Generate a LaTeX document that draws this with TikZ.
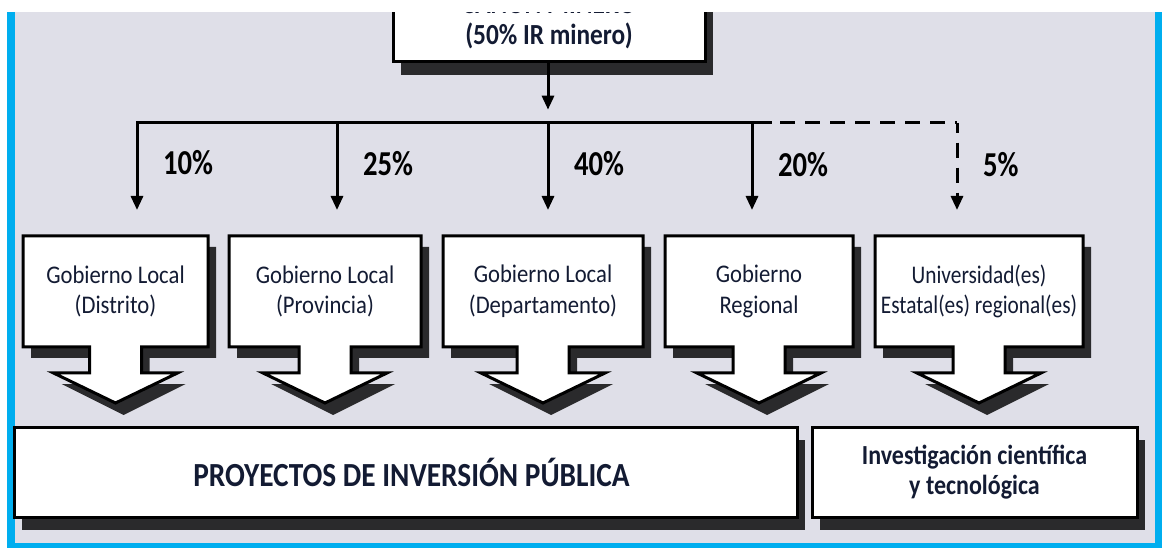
\documentclass[tikz,border=0pt]{standalone}
\usepackage{fontspec}
\usepackage{graphicx}
\setmainfont{Carlito}
\usetikzlibrary{arrows.meta,calc}
\definecolor{bgc}{HTML}{DFDFE8}
\definecolor{bluec}{HTML}{00AEEF}
\definecolor{navy}{HTML}{131B33}
\definecolor{shad}{HTML}{2A2A2C}
\pgfdeclarelayer{back}\pgfdeclarelayer{shapes}\pgfdeclarelayer{front}
\pgfsetlayers{back,shapes,main,front}
\newcommand\vs[1]{\scalebox{1}[1.12]{#1}}
\newcommand\vsb[1]{\scalebox{1}[1.15]{#1}}
\newcommand\vsp[1]{\scalebox{1}[1.22]{#1}}
\newcommand\callout[1]{%
 \begin{pgfonlayer}{shapes}
 \fill[shad] ([shift={(8,11)}]#1.north west) -- ([shift={(8,11)}]#1.north east) -- ([shift={(8,11)}]#1.south east) -- ([shift={(34,11)}]#1.south) -- ([shift={(34,37)}]#1.south) -- ([shift={(70,37)}]#1.south) -- ([shift={(8,68)}]#1.south) -- ([shift={(-54,37)}]#1.south) -- ([shift={(-18,37)}]#1.south) -- ([shift={(-18,11)}]#1.south) -- ([shift={(8,11)}]#1.south west) -- cycle;
 \filldraw[outl] (#1.north west) -- (#1.north east) -- (#1.south east) -- ([shift={(26,0)}]#1.south) -- ([shift={(26,26)}]#1.south) -- ([shift={(62,26)}]#1.south) -- ([shift={(0,56)}]#1.south) -- ([shift={(-62,26)}]#1.south) -- ([shift={(-26,26)}]#1.south) -- ([shift={(-26,0)}]#1.south) -- (#1.south west) -- cycle;
 \end{pgfonlayer}}
\newcommand\plainbox[1]{%
 \begin{pgfonlayer}{shapes}
 \fill[shad] ([shift={(8,13)}]#1.north west) rectangle ([shift={(8,13)}]#1.south east);
 \filldraw[outl] (#1.north west) rectangle (#1.south east);
 \end{pgfonlayer}}
\tikzset{
 outl/.style={fill=white, draw=black, line width=2.25pt, line join=miter},
 bx/.style={draw=none, inner sep=0pt, outer sep=0pt, align=center, text=navy,
   minimum height={111*0.75pt}, font=\fontsize{17}{23}\selectfont},
 line/.style={draw=black, line width=2.25pt},
 conn/.style={line, -{Triangle[width=9pt,length=10.5pt]}, shorten >=19.5pt},
 pct/.style={font=\bfseries\fontsize{21.5}{24}\selectfont, text=black, inner sep=0pt, anchor=west, xshift=18.5pt},
}
\begin{document}
\begin{tikzpicture}[x=0.75pt,y=-0.75pt]
\useasboundingbox (0,0) rectangle (1162,548);
\begin{pgfonlayer}{back}
\fill[white] (0,0) rectangle (1162,548);
\fill[bgc] (15,12) rectangle (1155,543);
\fill[bluec] (7,12) rectangle (15,548);
\fill[bluec] (1155,12) rectangle (1162,548);
\fill[bluec] (7,543) rectangle (1162,548);
\end{pgfonlayer}

% top box
\node[bx, font=\bfseries\fontsize{19}{23.25}\selectfont, minimum width={312*0.75pt}, minimum height={80*0.75pt}] (top) at (549,22) {\vsb{CANON MINERO}\\\vsb{(50\% IR minero)}};
\plainbox{top}

% level boxes
\node[bx, minimum width={185*0.75pt}] (d1) at (115.5,291.5) {\vs{Gobierno Local}\\\vs{(Distrito)}};
\node[bx, minimum width={192*0.75pt}] (d2) at (325,291.5) {\vs{Gobierno Local}\\\vs{(Provincia)}};
\node[bx, minimum width={200*0.75pt}] (d3) at (543,291.5) {\vs{Gobierno Local}\\\vs{(Departamento)}};
\node[bx, minimum width={188*0.75pt}] (d4) at (759,291.5) {\vs{Gobierno}\\\vs{Regional}};
\node[bx, minimum width={208*0.75pt}, font=\fontsize{16}{23}\selectfont] (d5) at (979,291.5) {\scalebox{1}[1.19]{Universidad(es)}\\\scalebox{1}[1.19]{Estatal(es) regional(es)}};
\callout{d1}\callout{d2}\callout{d3}\callout{d4}\callout{d5}

% bottom boxes
\node[bx, minimum width={783*0.75pt}, minimum height={90*0.75pt}, font=\bfseries\fontsize{22}{26}\selectfont] (p1) at (405.5,472) {\hspace*{9pt}\vsb{PROYECTOS DE INVERSIÓN PÚBLICA}};
\node[bx, minimum width={325*0.75pt}, minimum height={90*0.75pt}, font=\bfseries\fontsize{18}{22.5}\selectfont] (p2) at (974.5,472) {\vsb{Investigación científica}\\\vsb{y tecnológica}};
\plainbox{p1}\plainbox{p2}

% connectors
\coordinate (b1) at (137,123);
\coordinate (b2) at (337,123);
\coordinate (b3) at (548,123);
\coordinate (b4) at (752,123);
\coordinate (b4e) at (770,123);
\coordinate (b5) at (957,123);
\draw[conn, shorten >=10pt] (top.south -| b3) -- (b3);
\draw[line, line cap=rect] (b1) -- (b4e);
\draw[line, dash pattern=on 11.25pt off 7.5pt, dash phase=11.25pt] (b4e) -- (b5);
\draw[conn] (b1) -- (b1 |- d1.north) node[pct, pos=0.35] {\vsp{10\%}};
\draw[conn] (b2) -- (b2 |- d2.north) node[pct, pos=0.36] {\vsp{25\%}};
\draw[conn] (b3) -- (b3 |- d3.north) node[pct, pos=0.36] {\vsp{40\%}};
\draw[conn] (b4) -- (b4 |- d4.north) node[pct, pos=0.37] {\vsp{20\%}};
\draw[conn, dash pattern=on 11.25pt off 7.5pt, dash phase=4pt] (b5) -- (b5 |- d5.north) node[pct, pos=0.37] {\vsp{5\%}};

\begin{pgfonlayer}{front}
\fill[white] (0,0) rectangle (1162,12);
\end{pgfonlayer}
\end{tikzpicture}
\end{document}
